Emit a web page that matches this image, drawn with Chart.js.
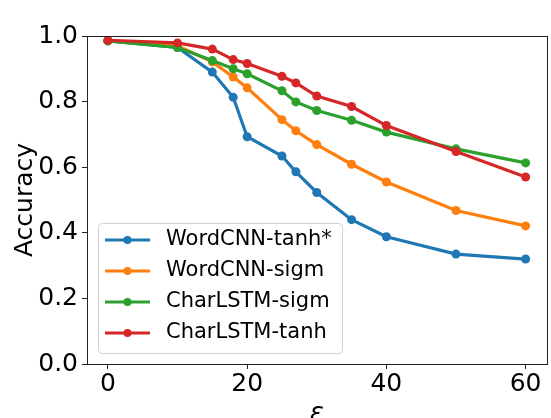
<!DOCTYPE html>
<html>
<head>
<meta charset="utf-8">
<script src="https://cdn.jsdelivr.net/npm/chart.js@4/dist/chart.umd.min.js"></script>
<style>
  body { margin: 0; background: #fff; }
  canvas { display: block; }
</style>
</head>
<body>
<canvas id="chart" width="551" height="418"></canvas>
<script>
// epsilon values on the x axis
const eps = [0, 10, 15, 18, 20, 25, 27, 30, 35, 40, 50, 60];

const wordCnnTanh  = [0.985, 0.965, 0.890, 0.813, 0.693, 0.634, 0.586, 0.523, 0.440, 0.388, 0.335, 0.320];
const wordCnnSigm  = [0.985, 0.970, 0.921, 0.875, 0.842, 0.745, 0.711, 0.669, 0.609, 0.555, 0.468, 0.421];
const charLstmSigm = [0.985, 0.965, 0.925, 0.900, 0.885, 0.833, 0.799, 0.773, 0.743, 0.707, 0.656, 0.613];
const charLstmTanh = [0.987, 0.979, 0.960, 0.928, 0.916, 0.877, 0.857, 0.817, 0.785, 0.727, 0.648, 0.570];

const seriesNames = ['WordCNN-tanh*', 'WordCNN-sigm', 'CharLSTM-sigm', 'CharLSTM-tanh'];
const seriesData  = [wordCnnTanh, wordCnnSigm, charLstmSigm, charLstmTanh];
const colors      = ['#1f77b4', '#ff7f0e', '#2ca02c', '#d62728'];

const xTicks = [0, 20, 40, 60];
const yTicks = [0, 0.2, 0.4, 0.6, 0.8, 1.0];

Chart.defaults.font.family = 'DejaVu Sans';
Chart.defaults.color = '#000';

// full box around the plot, like matplotlib spines
const framePlugin = {
  id: 'frame',
  afterDatasetsDraw(chart) {
    const { ctx, chartArea: a } = chart;
    ctx.save();
    ctx.strokeStyle = '#222';
    ctx.lineWidth = 1;
    ctx.strokeRect(Math.round(a.left) + 0.5, Math.round(a.top) + 0.5,
                   Math.round(a.right - a.left), Math.round(a.bottom - a.top));
    ctx.restore();
  }
};

// legend box inside the plot, lower left
const legendPlugin = {
  id: 'innerLegend',
  afterDraw(chart) {
    const { ctx } = chart;
    const x0 = 98, y0 = 223, w = 244, h = 130, rowH = 31;
    ctx.save();
    ctx.beginPath();
    ctx.roundRect(x0 + 0.5, y0 + 0.5, w, h, 4);
    ctx.fillStyle = 'rgba(255,255,255,0.8)';
    ctx.fill();
    ctx.strokeStyle = '#d0d0d0';
    ctx.lineWidth = 1;
    ctx.stroke();
    ctx.font = '21px "DejaVu Sans"';
    ctx.textBaseline = 'middle';
    chart.data.datasets.forEach((ds, i) => {
      const y = y0 + 17 + i * rowH;
      ctx.strokeStyle = ds.borderColor;
      ctx.lineWidth = 3;
      ctx.beginPath();
      ctx.moveTo(105, y);
      ctx.lineTo(150, y);
      ctx.stroke();
      ctx.fillStyle = ds.borderColor;
      ctx.beginPath();
      ctx.arc(127.5, y, 4, 0, Math.PI * 2);
      ctx.fill();
      ctx.fillStyle = '#000';
      ctx.fillText(ds.label, 166, y);
    });
    ctx.restore();
  }
};

new Chart(document.getElementById('chart'), {
  type: 'line',
  data: {
    datasets: seriesNames.map((name, i) => ({
      label: name,
      data: eps.map((e, j) => ({ x: e, y: seriesData[i][j] })),
      borderColor: colors[i],
      backgroundColor: colors[i],
      borderWidth: 3.2,
      pointRadius: 4.5,
      pointBorderWidth: 0,
      pointBackgroundColor: colors[i],
      tension: 0,
      fill: false,
      order: seriesNames.length - i
    }))
  },
  options: {
    responsive: false,
    animation: false,
    layout: { padding: { left: 0, top: 36, right: 3, bottom: 0 } },
    plugins: {
      legend: { display: false },
      tooltip: { enabled: false }
    },
    scales: {
      x: {
        type: 'linear',
        min: -3,
        max: 63,
        afterBuildTicks: s => { s.ticks = xTicks.map(v => ({ value: v })); },
        afterFit: s => { s.height = 54; },
        border: { display: false },
        grid: { display: true, drawOnChartArea: false, drawTicks: true, tickLength: 5, tickColor: '#222', lineWidth: 1 },
        ticks: { font: { size: 25 }, padding: 0, maxRotation: 0, autoSkip: false, callback: v => String(v) },
        title: {
          display: true,
          text: 'ε',
          font: { size: 26, style: 'italic' },
          padding: { top: 0, bottom: -12 }
        }
      },
      y: {
        min: 0,
        max: 1,
        afterBuildTicks: s => { s.ticks = yTicks.map(v => ({ value: v })); },
        afterFit: s => { s.width = 87; },
        border: { display: false },
        grid: { display: true, drawOnChartArea: false, drawTicks: true, tickLength: 5, tickColor: '#222', lineWidth: 1 },
        ticks: { font: { size: 25 }, padding: 4, autoSkip: false, callback: v => v.toFixed(1) },
        title: {
          display: true,
          text: 'Accuracy',
          font: { size: 25 },
          padding: { top: 10, bottom: 0 }
        }
      }
    }
  },
  plugins: [framePlugin, legendPlugin]
});
</script>
</body>
</html>
